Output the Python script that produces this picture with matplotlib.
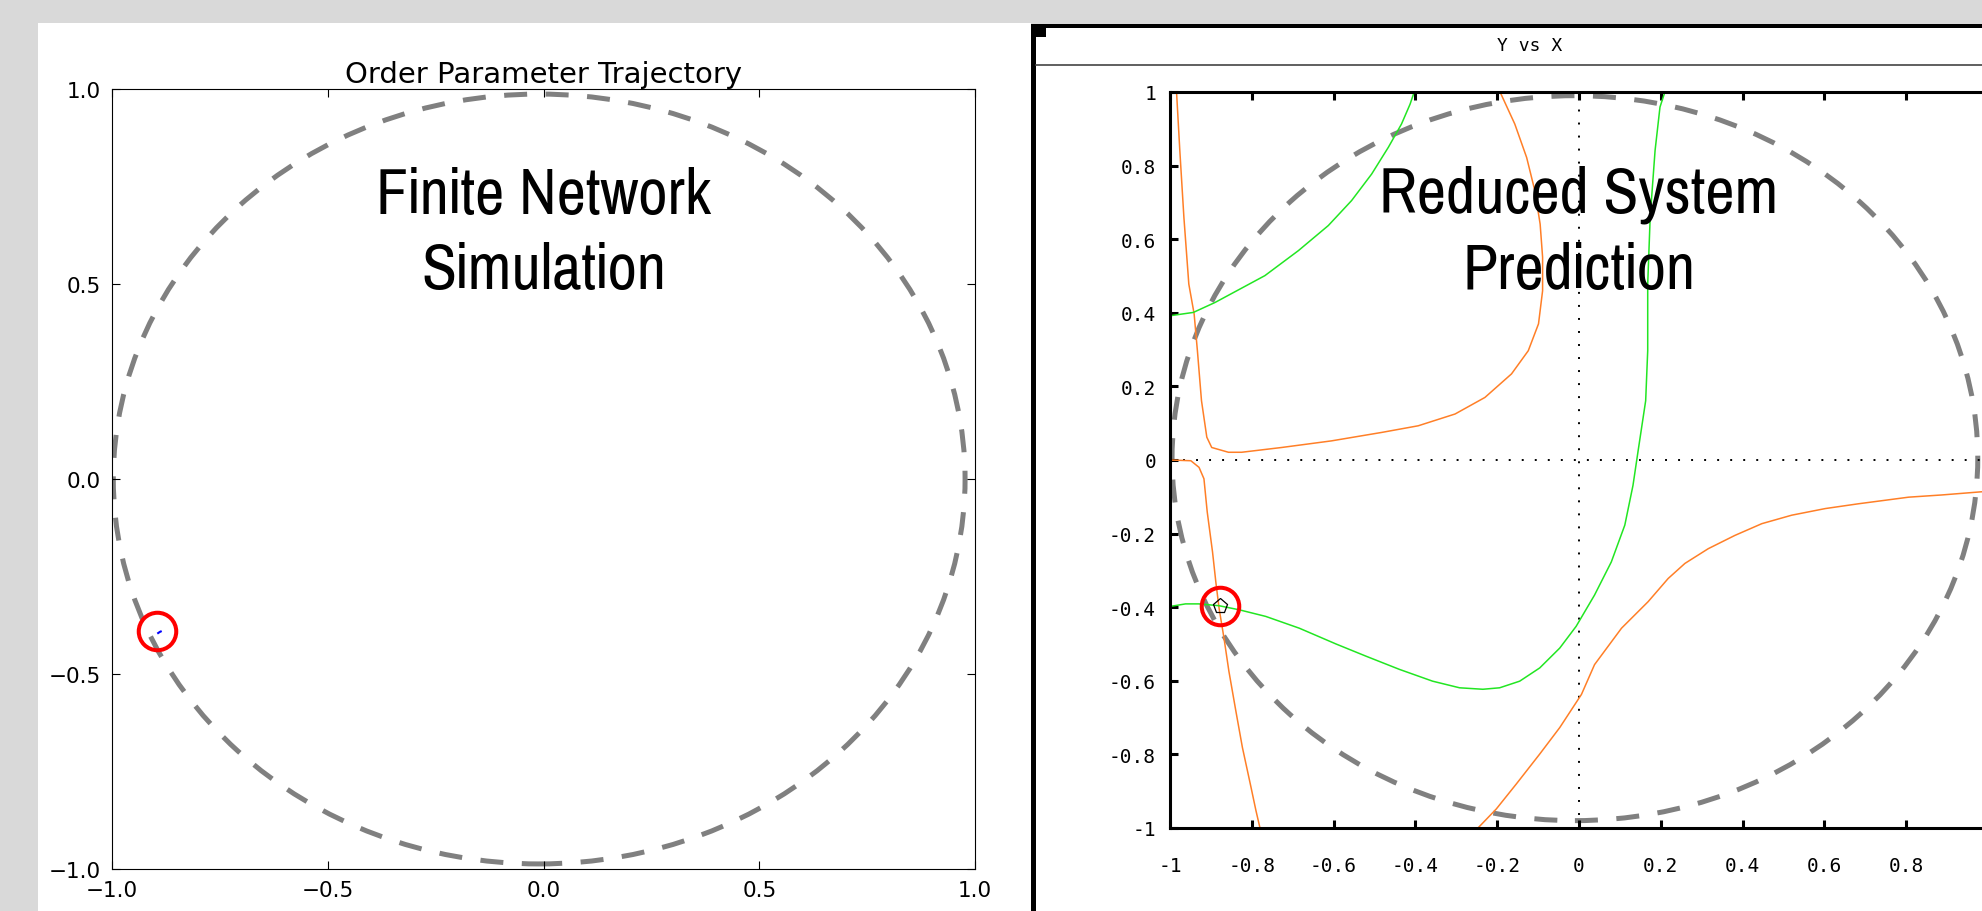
import matplotlib.pyplot as plt
from matplotlib.patches import Circle, Rectangle
from matplotlib.lines import Line2D

# ---- data ----
# left panel: simulated order parameter (tiny trajectory) and its fixed point
traj_x = [-0.893, -0.889, -0.887]
traj_y = [-0.395, -0.392, -0.391]
sim_point = (-0.895, -0.389)
left_ring = (-0.01, 0.0, 0.987)      # centre x, centre y, radius

# right panel: nullclines of the reduced system
orange1_x = [-0.984, -0.976, -0.966, -0.954, -0.941, -0.933, -0.923, -0.910, -0.898, -0.857,
             -0.825, -0.727, -0.605, -0.482, -0.393, -0.303, -0.230, -0.165, -0.124, -0.099,
             -0.089, -0.089, -0.095, -0.108, -0.128, -0.157, -0.193]
orange1_y = [1.0, 0.841, 0.659, 0.478, 0.397, 0.297, 0.161, 0.062, 0.034, 0.021,
             0.021, 0.034, 0.052, 0.075, 0.093, 0.125, 0.170, 0.234, 0.297, 0.370,
             0.460, 0.551, 0.641, 0.732, 0.822, 0.913, 1.0]

orange2_x = [-1.0, -0.949, -0.929, -0.917, -0.909, -0.896, -0.888, -0.880, -0.868, -0.856,
             -0.839, -0.823, -0.802, -0.790, -0.780]
orange2_y = [0.0, -0.002, -0.020, -0.051, -0.141, -0.250, -0.331, -0.403, -0.484, -0.574,
             -0.682, -0.781, -0.889, -0.952, -1.0]

orange3_x = [-0.247, -0.202, -0.153, -0.096, -0.047, 0.006, 0.038, 0.104, 0.169, 0.218,
             0.259, 0.316, 0.381, 0.447, 0.520, 0.602, 0.683, 0.806, 0.887, 0.977, 1.0]
orange3_y = [-1.0, -0.948, -0.880, -0.799, -0.727, -0.637, -0.556, -0.457, -0.385, -0.322,
             -0.281, -0.241, -0.205, -0.173, -0.150, -0.132, -0.119, -0.101, -0.095, -0.087, -0.085]

green1_x = [-1.0, -0.943, -0.890, -0.768, -0.686, -0.613, -0.556, -0.507, -0.466, -0.434,
            -0.413, -0.403]
green1_y = [0.392, 0.401, 0.428, 0.501, 0.569, 0.637, 0.705, 0.777, 0.850, 0.913,
            0.967, 1.0]

green2_x = [-1.0, -0.962, -0.929, -0.880, -0.831, -0.766, -0.684, -0.594, -0.521, -0.439,
            -0.358, -0.292, -0.235, -0.194, -0.145, -0.096, -0.047, -0.007, 0.038, 0.079,
            0.112, 0.132, 0.144, 0.163, 0.168, 0.168, 0.174, 0.186, 0.198, 0.210]
green2_y = [-0.398, -0.391, -0.391, -0.396, -0.407, -0.425, -0.457, -0.500, -0.533, -0.569,
            -0.601, -0.619, -0.623, -0.619, -0.601, -0.565, -0.511, -0.452, -0.367, -0.277,
            -0.177, -0.069, 0.021, 0.161, 0.297, 0.478, 0.659, 0.841, 0.959, 1.0]

pred_point = (-0.878, -0.396)
right_ring = (-0.01, 0.005, 0.985)

xppaut_ticks = [-1, -0.8, -0.6, -0.4, -0.2, 0, 0.2, 0.4, 0.6, 0.8]
xppaut_xlabels = ["-1", "-0.8", "-0.6", "-0.4", "-0.2", "0", "0.2", "0.4", "0.6", "0.8"]
xppaut_yticks = [-1, -0.8, -0.6, -0.4, -0.2, 0, 0.2, 0.4, 0.6, 0.8, 1]
xppaut_ylabels = ["-1", "-0.8", "-0.6", "-0.4", "-0.2", "0", "0.2", "0.4", "0.6", "0.8", "1"]

W, H = 1982, 912
fig = plt.figure(figsize=(W / 100, H / 100), dpi=100, facecolor="#d9d9d9")


def fr(x0, y0, x1, y1):
    # pixel box (top-left origin) -> figure fraction rect
    return [x0 / W, 1 - y1 / H, (x1 - x0) / W, (y1 - y0) / H]


def panel(box, color):
    l, b, w, h = fr(*box)
    fig.add_artist(Rectangle((l, b), w, h, transform=fig.transFigure,
                             facecolor=color, edgecolor="none", zorder=-5))


# white panels and xppaut window frame
panel((38, 24, 1031, 912), "white")
panel((1031, 25, W, H), "black")
panel((1036, 29, W, H), "white")
panel((1036, 29, 1046, 38), "black")
fig.add_artist(Line2D([1036 / W, 1], [1 - 66 / H, 1 - 66 / H], transform=fig.transFigure,
                      color="#444444", lw=1.2, zorder=-4))
fig.text(1530 / W, 1 - 46 / H, "Y vs X", family="DejaVu Sans Mono", fontsize=13,
         ha="center", va="center")

narrow = ["Pragati Narrow", "Archivo Narrow", "PT Sans Narrow", "DejaVu Sans"]
ring_style = dict(fill=False, edgecolor="#808080", lw=3.6, linestyle=(0, (4.6, 3.7)))

# ---- left: matplotlib simulation ----
ax1 = fig.add_axes(fr(112, 90, 975, 870))
ax1.add_patch(Circle(left_ring[:2], left_ring[2], **ring_style))
ax1.plot(traj_x, traj_y, color="blue", lw=1.5)
ax1.plot(*sim_point, "o", ms=27, mfc="none", mec="red", mew=2.9)
ax1.set_xlim(-1, 1)
ax1.set_ylim(-1, 1)
ax1.set_xticks([-1, -0.5, 0, 0.5, 1])
ax1.set_yticks([-1, -0.5, 0, 0.5, 1])
ax1.tick_params(direction="in", top=True, right=True, length=6, labelsize=15.5, pad=8)
ax1.set_title("Order Parameter Trajectory", fontsize=21, pad=5)
ax1.text(0, 0.632, "Finite Network\nSimulation", family=narrow, fontsize=50,
         ha="center", va="center", linespacing=1.38)

# ---- right: xppaut nullclines ----
ax2 = fig.add_axes(fr(1170, 93, 1988, 829))
ax2.set_facecolor("none")
ax2.axhline(0, color="black", lw=1.4, linestyle=(0, (1, 5.7)))
ax2.axvline(0, color="black", lw=1.4, linestyle=(0, (1, 5.7)))
for xs, ys in [(orange1_x, orange1_y), (orange2_x, orange2_y), (orange3_x, orange3_y)]:
    ax2.plot(xs, ys, color="#ff7f27", lw=1.1)
for xs, ys in [(green1_x, green1_y), (green2_x, green2_y)]:
    ax2.plot(xs, ys, color="#22e622", lw=1.1)
ax2.add_patch(Circle(right_ring[:2], right_ring[2], **ring_style))
ax2.plot(*pred_point, "p", ms=11, mfc="none", mec="black", mew=0.9)
ax2.plot(*pred_point, "o", ms=27, mfc="none", mec="red", mew=2.9)
ax2.set_xlim(-1, 1)
ax2.set_ylim(-1, 1)
ax2.set_xticks(xppaut_ticks)
ax2.set_xticklabels(xppaut_xlabels)
ax2.set_yticks(xppaut_yticks)
ax2.set_yticklabels(xppaut_ylabels)
for lab in ax2.get_xticklabels() + ax2.get_yticklabels():
    lab.set_family("DejaVu Sans Mono")
ax2.tick_params(direction="in", top=True, right=False, length=6, width=2.2, labelsize=14)
ax2.tick_params(axis="x", pad=20)
ax2.tick_params(axis="y", pad=10)
for side in ["left", "bottom", "top"]:
    ax2.spines[side].set_linewidth(2.2)
ax2.spines["right"].set_visible(False)
ax2.text(0, 0.620, "Reduced System\nPrediction", family=narrow, fontsize=50,
         ha="center", va="center", linespacing=1.38)

fig.savefig("out.png", dpi=100, facecolor=fig.get_facecolor())
